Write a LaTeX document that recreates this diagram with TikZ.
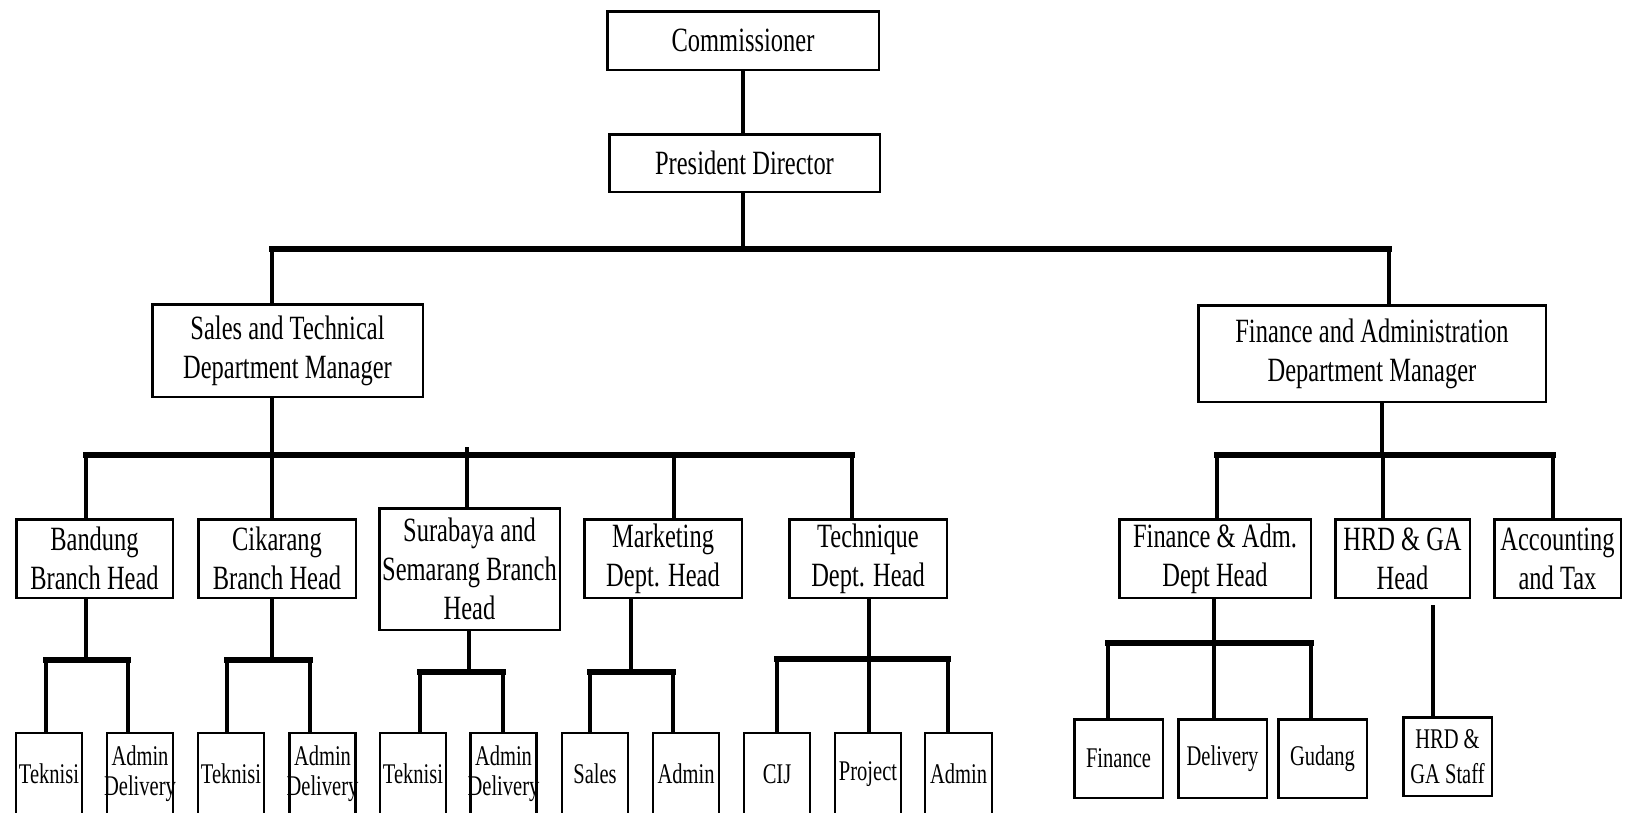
\documentclass[tikz,border=0pt]{standalone}
\usepackage{fontspec}
\setmainfont{Liberation Serif}[FakeStretch=0.72]
\newcommand\bigf{\fontsize{34}{39}\selectfont}
\newcommand\smallf{\fontsize{28.5}{32}\selectfont}
\newcommand\wideline[1]{\makebox[\hsize]{#1}}
\tikzset{
  box/.style={draw, line width=2.5pt, inner sep=0pt, align=center, font=\bigf, fill=white},
  headbox/.style={box, minimum height=78.5pt},
  leafbox/.style={box, font=\smallf, minimum height=82pt, minimum width=66pt},
  deskbox/.style={box, font=\smallf, minimum height=78.5pt, minimum width=88.5pt},
  duobox/.style={leafbox, text width=66pt, font=\fontsize{28.5}{30}\selectfont},
  vline/.style={line width=4.5pt},
  hbar/.style={line width=6pt, line cap=rect}
}
\begin{document}
\begin{tikzpicture}[x=1pt, y=-1pt]
\useasboundingbox (0,0) rectangle (1625,812);
\fill[white] (0,0) rectangle (1625,812);
\clip (0,0) rectangle (1625,812);

% ---- junction points of the connector lines ----
\coordinate (j0)  at (743,249);
\coordinate (j0l) at (272,249);
\coordinate (j0r) at (1389,249);

\coordinate (j1)  at (272,455);
\coordinate (j1a) at (86,455);
\coordinate (j1b) at (272,455);
\coordinate (j1c) at (467,447);
\coordinate (j1d) at (674,455);
\coordinate (j1e) at (852,455);

\coordinate (jf)  at (1382,455);
\coordinate (jfa) at (1217,455);
\coordinate (jfb) at (1383,455);
\coordinate (jfc) at (1553,455);

\coordinate (jb)  at (86,660);
\coordinate (jb1) at (46,660);
\coordinate (jb2) at (128,660);
\coordinate (jc)  at (272,660);
\coordinate (jc1) at (227,660);
\coordinate (jc2) at (310,660);
\coordinate (js)  at (469,672);
\coordinate (js1) at (420,672);
\coordinate (js2) at (503,672);
\coordinate (jm)  at (631,672);
\coordinate (jm1) at (590,672);
\coordinate (jm2) at (673,672);
\coordinate (jt)  at (869,659);
\coordinate (jt1) at (777,659);
\coordinate (jt2) at (869,659);
\coordinate (jt3) at (948,659);
\coordinate (jh)  at (1214,643);
\coordinate (jh1) at (1108,643);
\coordinate (jh2) at (1214,643);
\coordinate (jh3) at (1311,643);
\coordinate (jr)  at (1433,605);

% ---- connectors ----
\draw[vline] (743,71) -- (743,133);
\draw[vline] (j0 |- 0,193) -- (j0);
\draw[hbar] (j0l) -- (j0r);
\draw[vline] (j0l) -- (j0l |- 0,303);
\draw[vline] (j0r) -- (j0r |- 0,304);

\draw[vline] (j1 |- 0,398) -- (j1);
\draw[hbar] (j1a) -- (j1e);
\draw[vline] (j1a) -- (j1a |- 0,518);
\draw[vline] (j1b) -- (j1b |- 0,518);
\draw[vline] (j1c) -- (j1c |- 0,507);
\draw[vline] (j1d) -- (j1d |- 0,518);
\draw[vline] (j1e) -- (j1e |- 0,518);

\draw[vline] (jf |- 0,403) -- (jf);
\draw[hbar] (jfa) -- (jfc);
\draw[vline] (jfa) -- (jfa |- 0,518);
\draw[vline] (jfb) -- (jfb |- 0,518);
\draw[vline] (jfc) -- (jfc |- 0,518);

% ---- boxes ----
\node[box, minimum width=271.5pt, minimum height=58.5pt] (comm) at (743,40.5) {Commissioner};
\node[box, minimum width=270.5pt, minimum height=57.5pt] (pres) at (744.5,163) {President Director};
\node[box, minimum width=270.5pt, minimum height=92.5pt] (stm) at (287.5,350.5) {Sales and Technical\\Department Manager};
\node[box, minimum width=347.5pt, minimum height=96.5pt] (fam) at (1372,353.5) {Finance and Administration\\Department Manager};

\node[headbox, minimum width=156.5pt] (bandung) at (94.5,558.5) {Bandung\\Branch Head};
\node[headbox, minimum width=157.5pt] (cikarang) at (277,558.5) {Cikarang\\Branch Head};
\node[box, minimum width=180.5pt, minimum height=121.5pt] (surabaya) at (469.5,569) {Surabaya and\\Semarang Branch\\Head};
\node[headbox, minimum width=157.5pt] (marketing) at (663,558.5) {Marketing\\Dept. Head};
\node[headbox, minimum width=157.5pt] (technique) at (868,558.5) {Technique\\Dept. Head};
\node[headbox, minimum width=191.5pt] (fahead) at (1215,558.5) {Finance \& Adm.\\Dept Head};
\node[headbox, minimum width=134.5pt] (hrdhead) at (1402.5,558.5) {HRD \& GA\\Head};
\node[headbox, minimum width=126.5pt] (acct) at (1557.5,558.5) {Accounting\\and Tax};

\node[leafbox] (tek1) at (49,774) {Teknisi};
\node[duobox] (adm1) at (140,774) {Admin\\\wideline{Delivery}};
\node[leafbox] (tek2) at (231,774) {Teknisi};
\node[duobox] (adm2) at (322.5,774) {Admin\\\wideline{Delivery}};
\node[leafbox] (tek3) at (413,774) {Teknisi};
\node[duobox] (adm3) at (503.5,774) {Admin\\\wideline{Delivery}};
\node[leafbox] (sales) at (595,774) {Sales};
\node[leafbox] (admm) at (686,774) {Admin};
\node[leafbox] (cij) at (777,774) {CIJ};
\node[leafbox] (proj) at (868,774) {Project};
\node[leafbox, minimum width=67pt] (admt) at (958.5,774) {Admin};

\node[deskbox] (fin) at (1118.5,758.5) {Finance};
\node[deskbox] (del) at (1222.5,758.5) {Delivery};
\node[deskbox] (gud) at (1322.5,758.5) {Gudang};
\node[deskbox, font=\fontsize{28.5}{35}\selectfont] (hrdstaff) at (1447.5,756.5) {HRD \&\\GA Staff};

% ---- lower connectors ----
\draw[vline] (bandung.south -| jb) -- (jb);
\draw[hbar] (jb1) -- (jb2);
\draw[vline] (jb1) -- (tek1.north -| jb1);
\draw[vline] (jb2) -- (adm1.north -| jb2);

\draw[vline] (cikarang.south -| jc) -- (jc);
\draw[hbar] (jc1) -- (jc2);
\draw[vline] (jc1) -- (tek2.north -| jc1);
\draw[vline] (jc2) -- (adm2.north -| jc2);

\draw[vline] (surabaya.south -| js) -- (js);
\draw[hbar] (js1) -- (js2);
\draw[vline] (js1) -- (tek3.north -| js1);
\draw[vline] (js2) -- (adm3.north -| js2);

\draw[vline] (marketing.south -| jm) -- (jm);
\draw[hbar] (jm1) -- (jm2);
\draw[vline] (jm1) -- (sales.north -| jm1);
\draw[vline] (jm2) -- (admm.north -| jm2);

\draw[vline] (technique.south -| jt) -- (jt);
\draw[hbar] (jt1) -- (jt3);
\draw[vline] (jt1) -- (cij.north -| jt1);
\draw[vline] (jt2) -- (proj.north -| jt2);
\draw[vline] (jt3) -- (admt.north -| jt3);

\draw[vline] (fahead.south -| jh) -- (jh);
\draw[hbar] (jh1) -- (jh3);
\draw[vline] (jh1) -- (fin.north -| jh1);
\draw[vline] (jh2) -- (del.north -| jh2);
\draw[vline] (jh3) -- (gud.north -| jh3);

\draw[vline] (jr) -- (hrdstaff.north -| jr);
\end{tikzpicture}
\end{document}
